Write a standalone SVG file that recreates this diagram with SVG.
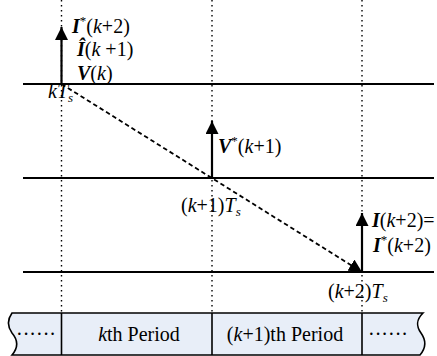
<svg xmlns="http://www.w3.org/2000/svg" width="437" height="356" viewBox="0 0 437 356">
<style>
text{font-family:"Liberation Serif","Times New Roman","DejaVu Serif",serif;font-size:20px;fill:#000}
.b{font-weight:bold;font-style:italic}
.i{font-style:italic}
.sup{font-size:13px}
.hl{stroke:#000;stroke-width:2;fill:none}
.dot{stroke:#000;stroke-width:1.4;stroke-dasharray:1.5 3.5;fill:none}
.arr{stroke:#000;stroke-width:2.2;fill:none}
.dash{stroke:#000;stroke-width:1.8;stroke-dasharray:4.5 3;fill:none}
.bar{fill:#e8eef8;stroke:#000;stroke-width:1.6}
.sep{stroke:#000;stroke-width:1.6}
</style>
<defs>
<marker id="ah" markerWidth="13" markerHeight="13" refX="12" refY="6" orient="auto" markerUnits="userSpaceOnUse" viewBox="0 0 12 12">
<path d="M0,0 L12,6 L0,12 z" fill="#000"/>
</marker>
</defs>
<g id="grid">
<line class="hl" x1="23" y1="84" x2="434" y2="84"/>
<line class="hl" x1="23" y1="178" x2="434" y2="178"/>
<line class="hl" x1="23" y1="272" x2="434" y2="272"/>
<line class="dot" x1="61.5" y1="0" x2="61.5" y2="313"/>
<line class="dot" x1="212" y1="0" x2="212" y2="313"/>
<line class="dot" x1="362" y1="0" x2="362" y2="313"/>
</g>
<g id="timebar">
<path class="bar" d="M12,313 L423,313 C416,320 416,326 421,333 C426,340 426,348 420,355 L12,355 C18,348 18,340 12,333 C7,326 7,320 12,313 z"/>
<line class="sep" x1="61.5" y1="313" x2="61.5" y2="355"/>
<line class="sep" x1="212" y1="313" x2="212" y2="355"/>
<line class="sep" x1="362" y1="313" x2="362" y2="355"/>
<text x="36" y="341" text-anchor="middle">······</text>
<text x="139" y="341" text-anchor="middle"><tspan class="i">k</tspan>th Period</text>
<text x="285" y="341" text-anchor="middle">(<tspan class="i">k</tspan>+1)th Period</text>
<text x="388" y="341" text-anchor="middle">······</text>
</g>
<g id="connectors">
<line class="dash" x1="61.5" y1="84" x2="362" y2="272" marker-end="url(#ah)"/>
<line class="arr" x1="61.5" y1="84" x2="61.5" y2="27" marker-end="url(#ah)"/>
<line class="arr" x1="212" y1="178" x2="212" y2="121" marker-end="url(#ah)"/>
<line class="arr" x1="362" y1="272" x2="362" y2="213" marker-end="url(#ah)"/>
</g>
<g id="node-k">
<text x="72" y="33"><tspan class="b">I</tspan><tspan class="sup" dy="-8">*</tspan><tspan dy="8">(</tspan><tspan class="i">k</tspan>+2)</text>
<text x="77" y="56"><tspan class="b">Î</tspan>(<tspan class="i">k</tspan> +1)</text>
<text x="77" y="80"><tspan class="b">V</tspan>(<tspan class="i">k</tspan>)</text>
<text x="48" y="98"><tspan class="i">kT</tspan><tspan class="i sup" dy="4">s</tspan></text>
</g>
<g id="node-k1">
<text x="218" y="153"><tspan class="b">V</tspan><tspan class="sup" dy="-8">*</tspan><tspan dy="8">(</tspan><tspan class="i">k</tspan>+1)</text>
<text x="181" y="212">(<tspan class="i">k</tspan>+1)<tspan class="i">T</tspan><tspan class="i sup" dy="4">s</tspan></text>
</g>
<g id="node-k2">
<text x="372" y="227"><tspan class="b">I</tspan>(<tspan class="i">k</tspan>+2)=</text>
<text x="373" y="252"><tspan class="b">I</tspan><tspan class="sup" dy="-8">*</tspan><tspan dy="8">(</tspan><tspan class="i">k</tspan>+2)</text>
<text x="328" y="298">(<tspan class="i">k</tspan>+2)<tspan class="i">T</tspan><tspan class="i sup" dy="4">s</tspan></text>
</g>
</svg>
